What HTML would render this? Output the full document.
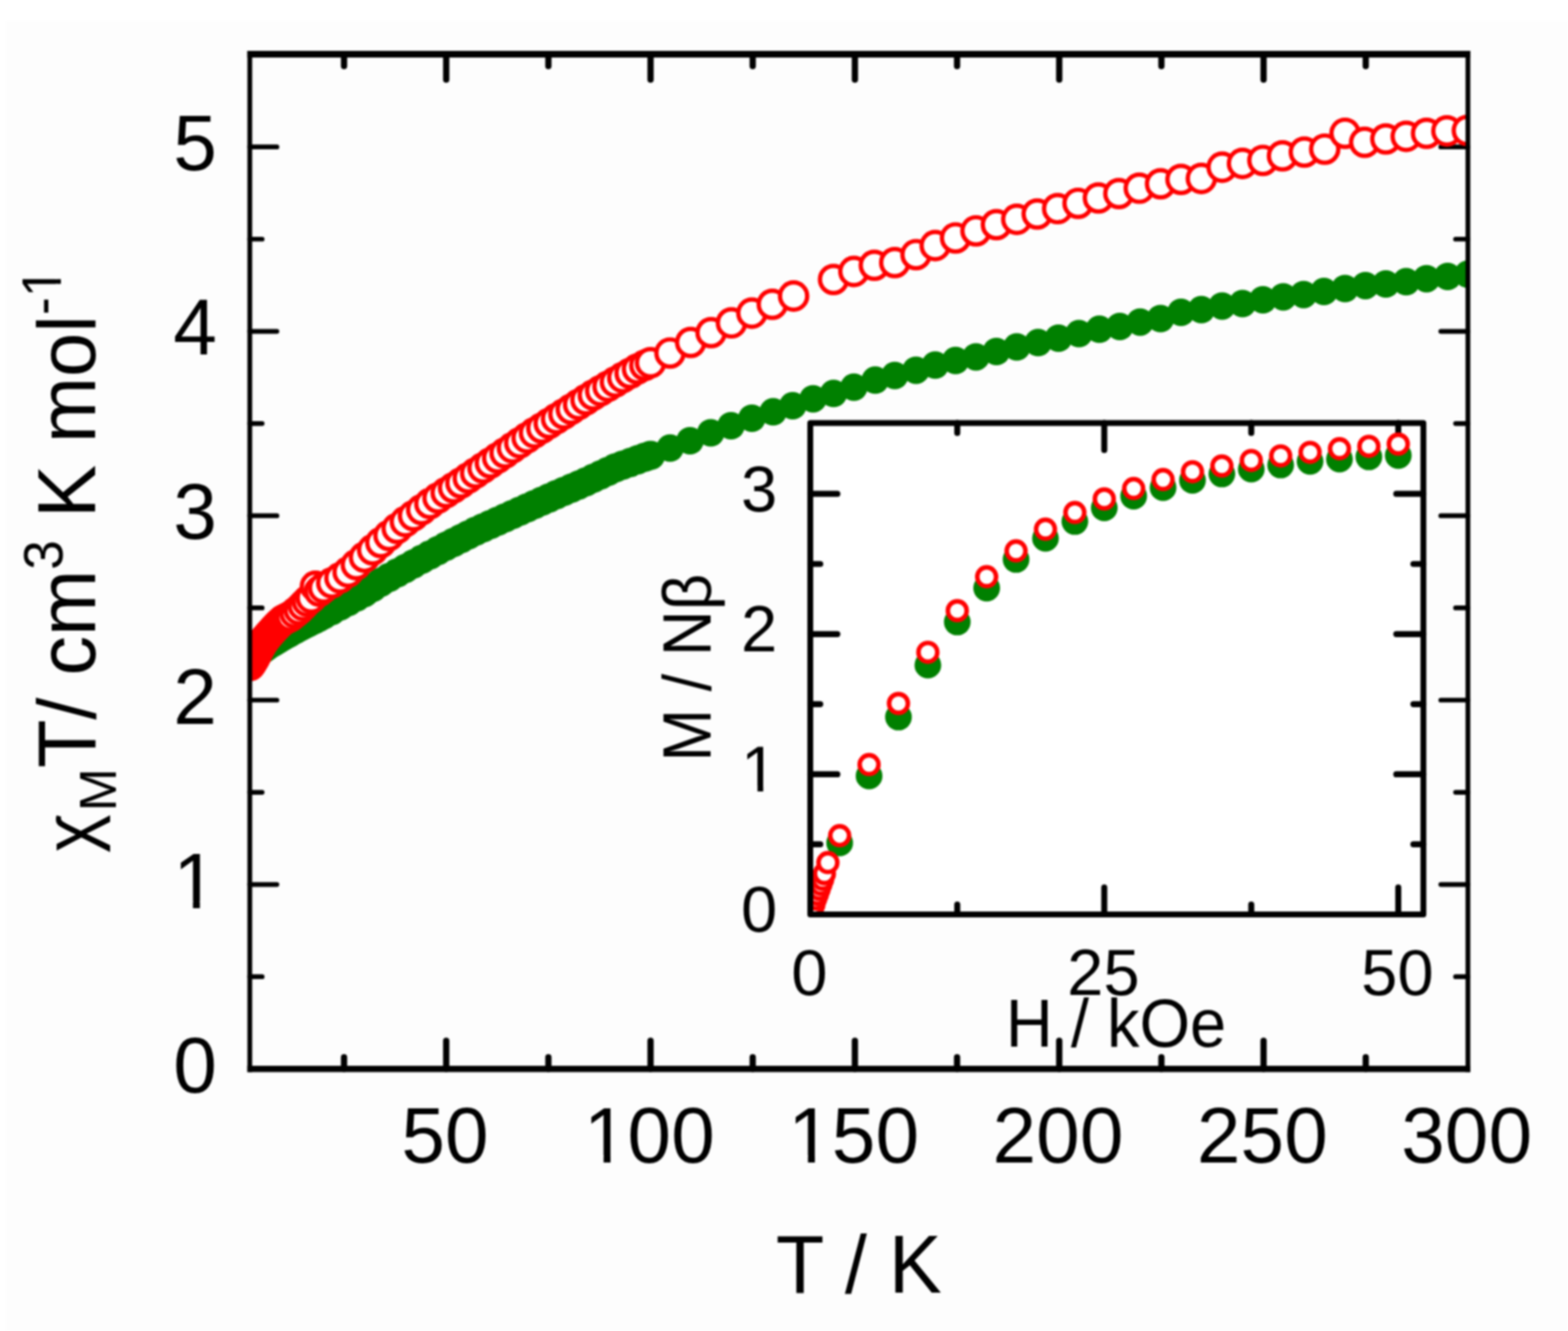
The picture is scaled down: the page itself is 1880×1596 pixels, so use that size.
<!DOCTYPE html>
<html><head><meta charset="utf-8"><title>plot</title>
<style>html,body{margin:0;padding:0;background:#fff;}svg{display:block;filter:blur(0.8px);}</style>
</head><body>
<svg width="1880" height="1596" viewBox="0 0 1880 1596">
<defs>
<clipPath id="cm"><rect x="299.5" y="65" width="1460.5" height="1216.7"/></clipPath>
<clipPath id="ci"><rect x="971.5" y="507.2" width="735.1" height="589.3"/></clipPath>
</defs>
<rect x="0" y="0" width="1880" height="1596" fill="#ffffff"/>
<rect x="7" y="25" width="1873" height="1571" fill="#fdfdfd"/>
<path d="M412.5 1281.7V1267.8M412.5 65V79.3M535 1281.7V1248.1M535 65V95.6M657.5 1281.7V1267.8M657.5 65V79.3M780 1281.7V1248.1M780 65V95.6M902.5 1281.7V1267.8M902.5 65V79.3M1025 1281.7V1248.1M1025 65V95.6M1147.5 1281.7V1267.8M1147.5 65V79.3M1270 1281.7V1248.1M1270 65V95.6M1392.5 1281.7V1267.8M1392.5 65V79.3M1515 1281.7V1248.1M1515 65V95.6M1637.5 1281.7V1267.8M1637.5 65V79.3" stroke="#000" stroke-width="7.5" fill="none" stroke-linecap="round"/>
<path d="M299.5 1171.15H314.3M1760 1171.15H1745.2M299.5 1060.6H332M1760 1060.6H1727.5M299.5 950.05H314.3M1760 950.05H1745.2M299.5 839.5H332M1760 839.5H1727.5M299.5 728.95H314.3M1760 728.95H1745.2M299.5 618.4H332M1760 618.4H1727.5M299.5 507.85H314.3M1760 507.85H1745.2M299.5 397.3H332M1760 397.3H1727.5M299.5 286.75H314.3M1760 286.75H1745.2M299.5 176.2H332M1760 176.2H1727.5" stroke="#000" stroke-width="5.7" fill="none" stroke-linecap="round"/>
<g clip-path="url(#cm)">
<g fill="#008000"><circle cx="299.8" cy="791" r="17.6"/><circle cx="301.02" cy="789.92" r="17.6"/><circle cx="302.25" cy="788.84" r="17.6"/><circle cx="303.48" cy="787.76" r="17.6"/><circle cx="304.7" cy="786.68" r="17.6"/><circle cx="305.93" cy="785.6" r="17.6"/><circle cx="307.15" cy="784.51" r="17.6"/><circle cx="308.38" cy="783.43" r="17.6"/><circle cx="309.6" cy="782.35" r="17.6"/><circle cx="310.82" cy="781.38" r="17.6"/><circle cx="312.05" cy="780.46" r="17.6"/><circle cx="313.27" cy="779.54" r="17.6"/><circle cx="314.5" cy="778.62" r="17.6"/><circle cx="315.73" cy="777.71" r="17.6"/><circle cx="316.95" cy="776.79" r="17.6"/><circle cx="318.18" cy="775.87" r="17.6"/><circle cx="319.4" cy="774.95" r="17.6"/><circle cx="321.85" cy="773.39" r="17.6"/><circle cx="324.3" cy="771.92" r="17.6"/><circle cx="326.75" cy="770.45" r="17.6"/><circle cx="329.2" cy="768.98" r="17.6"/><circle cx="331.65" cy="767.51" r="17.6"/><circle cx="334.1" cy="766.04" r="17.6"/><circle cx="336.55" cy="764.57" r="17.6"/><circle cx="339" cy="763.1" r="17.6"/><circle cx="341.45" cy="761.7" r="17.6"/><circle cx="343.9" cy="760.36" r="17.6"/><circle cx="346.35" cy="759.01" r="17.6"/><circle cx="348.8" cy="757.66" r="17.6"/><circle cx="353.7" cy="754.97" r="17.6"/><circle cx="358.6" cy="752.27" r="17.6"/><circle cx="363.5" cy="749.75" r="17.6"/><circle cx="368.4" cy="747.3" r="17.6"/><circle cx="373.3" cy="744.85" r="17.6"/><circle cx="378.2" cy="742.4" r="17.6"/><circle cx="383.1" cy="739.87" r="17.6"/><circle cx="388" cy="737.3" r="17.6"/><circle cx="397.8" cy="732.15" r="17.6"/><circle cx="407.6" cy="726.82" r="17.6"/><circle cx="417.4" cy="721.43" r="17.6"/><circle cx="427.2" cy="716.04" r="17.6"/><circle cx="437" cy="710.65" r="17.6"/><circle cx="446.8" cy="704.56" r="17.6"/><circle cx="456.6" cy="698.15" r="17.6"/><circle cx="466.4" cy="692.59" r="17.6"/><circle cx="476.2" cy="687.11" r="17.6"/><circle cx="486" cy="681.64" r="17.6"/><circle cx="495.8" cy="676.17" r="17.6"/><circle cx="505.6" cy="670.83" r="17.6"/><circle cx="515.4" cy="665.49" r="17.6"/><circle cx="525.2" cy="660.14" r="17.6"/><circle cx="535" cy="654.89" r="17.6"/><circle cx="543.82" cy="650.43" r="17.6"/><circle cx="552.64" cy="645.97" r="17.6"/><circle cx="561.46" cy="641.52" r="17.6"/><circle cx="570.28" cy="637.06" r="17.6"/><circle cx="579.1" cy="633.06" r="17.6"/><circle cx="587.92" cy="629.07" r="17.6"/><circle cx="596.74" cy="625.07" r="17.6"/><circle cx="605.56" cy="621.08" r="17.6"/><circle cx="614.38" cy="617.09" r="17.6"/><circle cx="623.2" cy="613.09" r="17.6"/><circle cx="632.02" cy="609.1" r="17.6"/><circle cx="640.84" cy="605.11" r="17.6"/><circle cx="649.66" cy="601.11" r="17.6"/><circle cx="658.48" cy="597.12" r="17.6"/><circle cx="667.3" cy="593.13" r="17.6"/><circle cx="676.12" cy="589.23" r="17.6"/><circle cx="684.94" cy="585.45" r="17.6"/><circle cx="693.76" cy="581.67" r="17.6"/><circle cx="702.58" cy="577.78" r="17.6"/><circle cx="711.4" cy="573.6" r="17.6"/><circle cx="720.22" cy="569.42" r="17.6"/><circle cx="729.04" cy="565.24" r="17.6"/><circle cx="737.86" cy="561.07" r="17.6"/><circle cx="746.68" cy="557.85" r="17.6"/><circle cx="755.5" cy="554.64" r="17.6"/><circle cx="764.32" cy="551.44" r="17.6"/><circle cx="773.14" cy="548.24" r="17.6"/><circle cx="780" cy="546" r="17.6"/><circle cx="803.4" cy="537.3" r="16.5"/><circle cx="827.3" cy="528.5" r="16.5"/><circle cx="852.2" cy="519" r="16.5"/><circle cx="876.5" cy="510.5" r="16.5"/><circle cx="901.5" cy="501.5" r="16.5"/><circle cx="927" cy="493.8" r="16.5"/><circle cx="950.4" cy="486.6" r="16.5"/><circle cx="974.9" cy="478.2" r="16.5"/><circle cx="999.4" cy="471.8" r="16.5"/><circle cx="1023.8" cy="464.3" r="16.5"/><circle cx="1049.4" cy="455.8" r="16.5"/><circle cx="1072.8" cy="450.3" r="16.5"/><circle cx="1098.3" cy="443.9" r="16.5"/><circle cx="1121.3" cy="437.8" r="16.5"/><circle cx="1145.7" cy="432.3" r="16.5"/><circle cx="1170.2" cy="427.9" r="16.5"/><circle cx="1194.7" cy="421.5" r="16.5"/><circle cx="1219.1" cy="416.1" r="16.5"/><circle cx="1244.7" cy="410.8" r="16.5"/><circle cx="1269.1" cy="405.5" r="16.5"/><circle cx="1293.6" cy="400.1" r="16.5"/><circle cx="1318.1" cy="394.8" r="16.5"/><circle cx="1342.6" cy="391.5" r="16.5"/><circle cx="1367" cy="386.2" r="16.5"/><circle cx="1391.5" cy="382" r="16.5"/><circle cx="1416" cy="374.5" r="16.5"/><circle cx="1440.4" cy="371.3" r="16.5"/><circle cx="1465.3" cy="366.9" r="16.5"/><circle cx="1489.7" cy="364.1" r="16.5"/><circle cx="1514.2" cy="359.5" r="16.5"/><circle cx="1538.6" cy="355.9" r="16.5"/><circle cx="1563" cy="353.2" r="16.5"/><circle cx="1587.4" cy="349.6" r="16.5"/><circle cx="1612.7" cy="346" r="16.5"/><circle cx="1637.1" cy="342.4" r="16.5"/><circle cx="1661.6" cy="340.5" r="16.5"/><circle cx="1686" cy="337.8" r="16.5"/><circle cx="1710.4" cy="334.2" r="16.5"/><circle cx="1735.7" cy="331.5" r="16.5"/><circle cx="1760" cy="328.8" r="16.5"/></g>
<g fill="#ffffff" stroke="#ff0000" stroke-width="5.2"><circle cx="299.8" cy="798" r="16.3"/><circle cx="301.02" cy="796" r="16.3"/><circle cx="302.25" cy="794" r="16.3"/><circle cx="303.48" cy="792" r="16.3"/><circle cx="304.7" cy="790" r="16.3"/><circle cx="305.93" cy="787.5" r="16.3"/><circle cx="307.15" cy="785" r="16.3"/><circle cx="308.38" cy="782.5" r="16.3"/><circle cx="309.6" cy="780" r="16.3"/><circle cx="310.82" cy="777.75" r="16.3"/><circle cx="312.05" cy="775.5" r="16.3"/><circle cx="313.27" cy="773.25" r="16.3"/><circle cx="314.5" cy="771" r="16.3"/><circle cx="315.73" cy="769.38" r="16.3"/><circle cx="316.95" cy="767.75" r="16.3"/><circle cx="318.18" cy="766.12" r="16.3"/><circle cx="319.4" cy="764.5" r="16.3"/><circle cx="321.85" cy="761.75" r="16.3"/><circle cx="324.3" cy="759" r="16.3"/><circle cx="326.75" cy="756.25" r="16.3"/><circle cx="329.2" cy="753.5" r="16.3"/><circle cx="331.65" cy="751" r="16.3"/><circle cx="334.1" cy="748.5" r="16.3"/><circle cx="336.55" cy="746.25" r="16.3"/><circle cx="339" cy="744" r="16.3"/><circle cx="341.45" cy="742.75" r="16.3"/><circle cx="343.9" cy="741.5" r="16.3"/><circle cx="346.35" cy="740.25" r="16.3"/><circle cx="348.8" cy="739" r="16.3"/><circle cx="353.7" cy="735" r="16.3"/><circle cx="358.6" cy="731" r="16.3"/><circle cx="363.5" cy="726" r="16.3"/><circle cx="368.4" cy="721" r="16.3"/><circle cx="373.3" cy="717" r="16.3"/><circle cx="378.2" cy="703" r="16.3"/><circle cx="383.1" cy="709" r="16.3"/><circle cx="388" cy="705" r="16.3"/><circle cx="397.8" cy="699" r="16.3"/><circle cx="407.6" cy="693" r="16.3"/><circle cx="417.4" cy="686" r="16.3"/><circle cx="427.2" cy="677.09" r="16.3"/><circle cx="437" cy="668.18" r="16.3"/><circle cx="446.8" cy="659.27" r="16.3"/><circle cx="456.6" cy="650.53" r="16.3"/><circle cx="466.4" cy="642.04" r="16.3"/><circle cx="476.2" cy="633.55" r="16.3"/><circle cx="486" cy="625.5" r="16.3"/><circle cx="495.8" cy="618.29" r="16.3"/><circle cx="505.6" cy="611.09" r="16.3"/><circle cx="515.4" cy="603.88" r="16.3"/><circle cx="525.2" cy="597.08" r="16.3"/><circle cx="535" cy="590.63" r="16.3"/><circle cx="543.82" cy="584.83" r="16.3"/><circle cx="552.64" cy="579.03" r="16.3"/><circle cx="561.46" cy="573.14" r="16.3"/><circle cx="570.28" cy="567.13" r="16.3"/><circle cx="579.1" cy="561.11" r="16.3"/><circle cx="587.92" cy="555.09" r="16.3"/><circle cx="596.74" cy="549.06" r="16.3"/><circle cx="605.56" cy="543.03" r="16.3"/><circle cx="614.38" cy="537.01" r="16.3"/><circle cx="623.2" cy="530.98" r="16.3"/><circle cx="632.02" cy="524.95" r="16.3"/><circle cx="640.84" cy="518.96" r="16.3"/><circle cx="649.66" cy="513.29" r="16.3"/><circle cx="658.48" cy="507.62" r="16.3"/><circle cx="667.3" cy="501.95" r="16.3"/><circle cx="676.12" cy="496.28" r="16.3"/><circle cx="684.94" cy="490.61" r="16.3"/><circle cx="693.76" cy="484.94" r="16.3"/><circle cx="702.58" cy="479.27" r="16.3"/><circle cx="711.4" cy="473.67" r="16.3"/><circle cx="720.22" cy="468.44" r="16.3"/><circle cx="729.04" cy="463.22" r="16.3"/><circle cx="737.86" cy="457.99" r="16.3"/><circle cx="746.68" cy="452.76" r="16.3"/><circle cx="755.5" cy="447.54" r="16.3"/><circle cx="764.32" cy="442.34" r="16.3"/><circle cx="773.14" cy="438.02" r="16.3"/><circle cx="780" cy="435" r="16.3"/><circle cx="803.3" cy="423.3" r="16.3"/><circle cx="828.1" cy="410.6" r="16.3"/><circle cx="852.6" cy="398.9" r="16.3"/><circle cx="877" cy="387.2" r="16.3"/><circle cx="901.5" cy="375.5" r="16.3"/><circle cx="926" cy="364.9" r="16.3"/><circle cx="951.5" cy="355" r="16.3"/><circle cx="999.4" cy="335.1" r="16.3"/><circle cx="1023.8" cy="325.5" r="16.3"/><circle cx="1048.3" cy="318.1" r="16.3"/><circle cx="1072.8" cy="314.9" r="16.3"/><circle cx="1098.3" cy="305.3" r="16.3"/><circle cx="1121.3" cy="294.5" r="16.3"/><circle cx="1145.7" cy="285.3" r="16.3"/><circle cx="1170.2" cy="276.8" r="16.3"/><circle cx="1194.7" cy="269.4" r="16.3"/><circle cx="1219.1" cy="263" r="16.3"/><circle cx="1243.6" cy="256.6" r="16.3"/><circle cx="1268.1" cy="250.2" r="16.3"/><circle cx="1292.6" cy="243.8" r="16.3"/><circle cx="1317" cy="237.4" r="16.3"/><circle cx="1341.5" cy="232.1" r="16.3"/><circle cx="1366" cy="225.7" r="16.3"/><circle cx="1391.5" cy="220.4" r="16.3"/><circle cx="1416" cy="215.1" r="16.3"/><circle cx="1440.4" cy="214" r="16.3"/><circle cx="1465.3" cy="200.5" r="16.3"/><circle cx="1489.7" cy="196" r="16.3"/><circle cx="1514.2" cy="192.3" r="16.3"/><circle cx="1537.7" cy="186.9" r="16.3"/><circle cx="1563.9" cy="182.4" r="16.3"/><circle cx="1588.3" cy="178.8" r="16.3"/><circle cx="1612.7" cy="159.8" r="16.3"/><circle cx="1636.2" cy="170.6" r="16.3"/><circle cx="1661.6" cy="166.6" r="16.3"/><circle cx="1686" cy="163.5" r="16.3"/><circle cx="1710.4" cy="159.9" r="16.3"/><circle cx="1734.8" cy="157" r="16.3"/><circle cx="1759.3" cy="156.5" r="16.3"/></g>
</g>
<path d="M296.65 1281.7H1762.85" stroke="#000" stroke-width="7.5" fill="none"/>
<path d="M296.65 65H1762.85" stroke="#000" stroke-width="8.2" fill="none"/>
<path d="M299.5 60.9V1285.45M1760 60.9V1285.45" stroke="#000" stroke-width="5.7" fill="none"/>
<rect x="971.5" y="507.2" width="735.1" height="589.3" fill="#ffffff"/>
<path d="M1147.75 1096.5V1084.5M1147.75 507.2V519.2M1324 1096.5V1064M1324 507.2V539.7M1500.25 1096.5V1084.5M1500.25 507.2V519.2M1676.5 1096.5V1064M1676.5 507.2V539.7M971.5 1012.45H983.5M1706.6 1012.45H1694.6M971.5 928.4H1004M1706.6 928.4H1674.1M971.5 844.35H983.5M1706.6 844.35H1694.6M971.5 760.3H1004M1706.6 760.3H1674.1M971.5 676.25H983.5M1706.6 676.25H1694.6M971.5 592.2H1004M1706.6 592.2H1674.1" stroke="#000" stroke-width="7.2" fill="none" stroke-linecap="round"/>
<g clip-path="url(#ci)">
<g fill="#008000"><circle cx="1006.75" cy="1010.77" r="16"/><circle cx="1042" cy="930.42" r="16"/><circle cx="1077.25" cy="859.82" r="16"/><circle cx="1112.5" cy="797.45" r="16"/><circle cx="1147.75" cy="745.84" r="16"/><circle cx="1183" cy="705.16" r="16"/><circle cx="1218.25" cy="670.87" r="16"/><circle cx="1253.5" cy="645.49" r="16"/><circle cx="1288.75" cy="625.32" r="16"/><circle cx="1324" cy="609.01" r="16"/><circle cx="1359.25" cy="594.89" r="16"/><circle cx="1394.5" cy="584.64" r="16"/><circle cx="1429.75" cy="575.89" r="16"/><circle cx="1465" cy="568.33" r="16"/><circle cx="1500.25" cy="562.45" r="16"/><circle cx="1535.5" cy="557.57" r="16"/><circle cx="1570.75" cy="553.2" r="16"/><circle cx="1606" cy="550.51" r="16"/><circle cx="1641.25" cy="547.82" r="16"/><circle cx="1676.5" cy="546.14" r="16"/></g>
<g fill="#ffffff" stroke="#ff0000" stroke-width="5.4"><circle cx="973.62" cy="1091.46" r="11.3"/><circle cx="975.73" cy="1084.73" r="11.3"/><circle cx="977.85" cy="1078.01" r="11.3"/><circle cx="979.96" cy="1072.13" r="11.3"/><circle cx="982.08" cy="1066.24" r="11.3"/><circle cx="984.19" cy="1060.36" r="11.3"/><circle cx="986.3" cy="1054.47" r="11.3"/><circle cx="988.42" cy="1047.75" r="11.3"/><circle cx="992.65" cy="1034.3" r="11.3"/><circle cx="1006.75" cy="1002.03" r="11.3"/><circle cx="1042" cy="916.8" r="11.3"/><circle cx="1077.25" cy="843.51" r="11.3"/><circle cx="1112.5" cy="782.15" r="11.3"/><circle cx="1147.75" cy="732.23" r="11.3"/><circle cx="1183" cy="691.55" r="11.3"/><circle cx="1218.25" cy="660.62" r="11.3"/><circle cx="1253.5" cy="634.56" r="11.3"/><circle cx="1288.75" cy="614.56" r="11.3"/><circle cx="1324" cy="598.25" r="11.3"/><circle cx="1359.25" cy="585.81" r="11.3"/><circle cx="1394.5" cy="575.05" r="11.3"/><circle cx="1429.75" cy="565.64" r="11.3"/><circle cx="1465" cy="558.75" r="11.3"/><circle cx="1500.25" cy="552.19" r="11.3"/><circle cx="1535.5" cy="546.64" r="11.3"/><circle cx="1570.75" cy="542.44" r="11.3"/><circle cx="1606" cy="538.07" r="11.3"/><circle cx="1641.25" cy="535.21" r="11.3"/><circle cx="1676.5" cy="532.52" r="11.3"/></g>
</g>
<rect x="971.5" y="507.2" width="735.1" height="589.3" fill="none" stroke="#000" stroke-width="7" stroke-linejoin="round"/>
<g font-family="'Liberation Sans', Arial, sans-serif" fill="#000">
<text id="ty0" x="260" y="1309.7" font-size="94" text-anchor="end">0</text>
<mask id="m_ty1" maskUnits="userSpaceOnUse" x="-4000" y="-4000" width="8000" height="8000"><rect x="-4000" y="-4000" width="8000" height="8000" fill="#fff"/><g fill="#000"><rect x="213.1" y="1080.38" width="18.25" height="10.22"/><rect x="239.66" y="1080.38" width="17.52" height="10.22"/></g></mask>
<text id="ty1" x="260" y="1088.6" font-size="94" text-anchor="end" mask="url(#m_ty1)">1</text>
<text id="ty2" x="260" y="867.5" font-size="94" text-anchor="end">2</text>
<text id="ty3" x="260" y="646.4" font-size="94" text-anchor="end">3</text>
<text id="ty4" x="260" y="425.3" font-size="94" text-anchor="end">4</text>
<text id="ty5" x="260" y="204.2" font-size="94" text-anchor="end">5</text>
<text id="tx50" x="533.5" y="1393.5" font-size="94" text-anchor="middle">50</text>
<mask id="m_tx100" maskUnits="userSpaceOnUse" x="-4000" y="-4000" width="8000" height="8000"><rect x="-4000" y="-4000" width="8000" height="8000" fill="#fff"/><g fill="#000"><rect x="705.46" y="1385.28" width="18.25" height="10.22"/><rect x="732.02" y="1385.28" width="17.52" height="10.22"/></g></mask>
<text id="tx100" x="778.5" y="1393.5" font-size="94" text-anchor="middle" mask="url(#m_tx100)">100</text>
<mask id="m_tx150" maskUnits="userSpaceOnUse" x="-4000" y="-4000" width="8000" height="8000"><rect x="-4000" y="-4000" width="8000" height="8000" fill="#fff"/><g fill="#000"><rect x="950.46" y="1385.28" width="18.25" height="10.22"/><rect x="977.02" y="1385.28" width="17.52" height="10.22"/></g></mask>
<text id="tx150" x="1023.5" y="1393.5" font-size="94" text-anchor="middle" mask="url(#m_tx150)">150</text>
<text id="tx200" x="1268.5" y="1393.5" font-size="94" text-anchor="middle">200</text>
<text id="tx250" x="1513.5" y="1393.5" font-size="94" text-anchor="middle">250</text>
<text id="tx300" x="1758.5" y="1393.5" font-size="94" text-anchor="middle">300</text>
<text transform="translate(1029.7 1550) scale(1 1.03)" font-size="95" text-anchor="middle">T / K</text>
<mask id="m_ylab" maskUnits="userSpaceOnUse" x="-4000" y="-4000" width="8000" height="8000"><rect x="-4000" y="-4000" width="8000" height="8000" fill="#fff"/><g fill="#000"><rect x="669.71" y="-45.58" width="12.91" height="7.98"/><rect x="688.27" y="-45.58" width="12.41" height="7.98"/></g></mask>
<text transform="translate(114 1023) rotate(-90) translate(46.4 0) scale(-1 1)" font-size="88">&#967;</text>
<text id="ylab" transform="translate(114 1023) rotate(-90) scale(1 1.03)" x="50.3" font-size="95.2" mask="url(#m_ylab)"><tspan font-size="62" dy="23.9">M</tspan><tspan dy="-23.9">T/ cm</tspan><tspan font-size="64" dy="-37.4">3</tspan><tspan dy="37.4"> K mol</tspan><tspan font-size="64" dy="-39.6">-1</tspan></text>
<text id="iy0" x="932" y="1117.3" font-size="78" text-anchor="end">0</text>
<mask id="m_iy1" maskUnits="userSpaceOnUse" x="-4000" y="-4000" width="8000" height="8000"><rect x="-4000" y="-4000" width="8000" height="8000" fill="#fff"/><g fill="#000"><rect x="892.82" y="942.17" width="15.4" height="9.03"/><rect x="915.12" y="942.17" width="14.79" height="9.03"/></g></mask>
<text id="iy1" x="932" y="949.2" font-size="78" text-anchor="end" mask="url(#m_iy1)">1</text>
<text id="iy2" x="932" y="781.1" font-size="78" text-anchor="end">2</text>
<text id="iy3" x="932" y="613" font-size="78" text-anchor="end">3</text>
<text x="970.5" y="1193.2" font-size="78" text-anchor="middle">0</text>
<text x="1323" y="1193.2" font-size="78" text-anchor="middle">25</text>
<text x="1675.5" y="1193.2" font-size="78" text-anchor="middle">50</text>
<text transform="translate(1205.9 1255) scale(1 1.035)" font-size="78">H / kOe</text>
<text transform="translate(851.5 913.3) rotate(-90) scale(1 1.07)" font-size="76">M / N&#946;</text>
</g>
</svg>
</body></html>
